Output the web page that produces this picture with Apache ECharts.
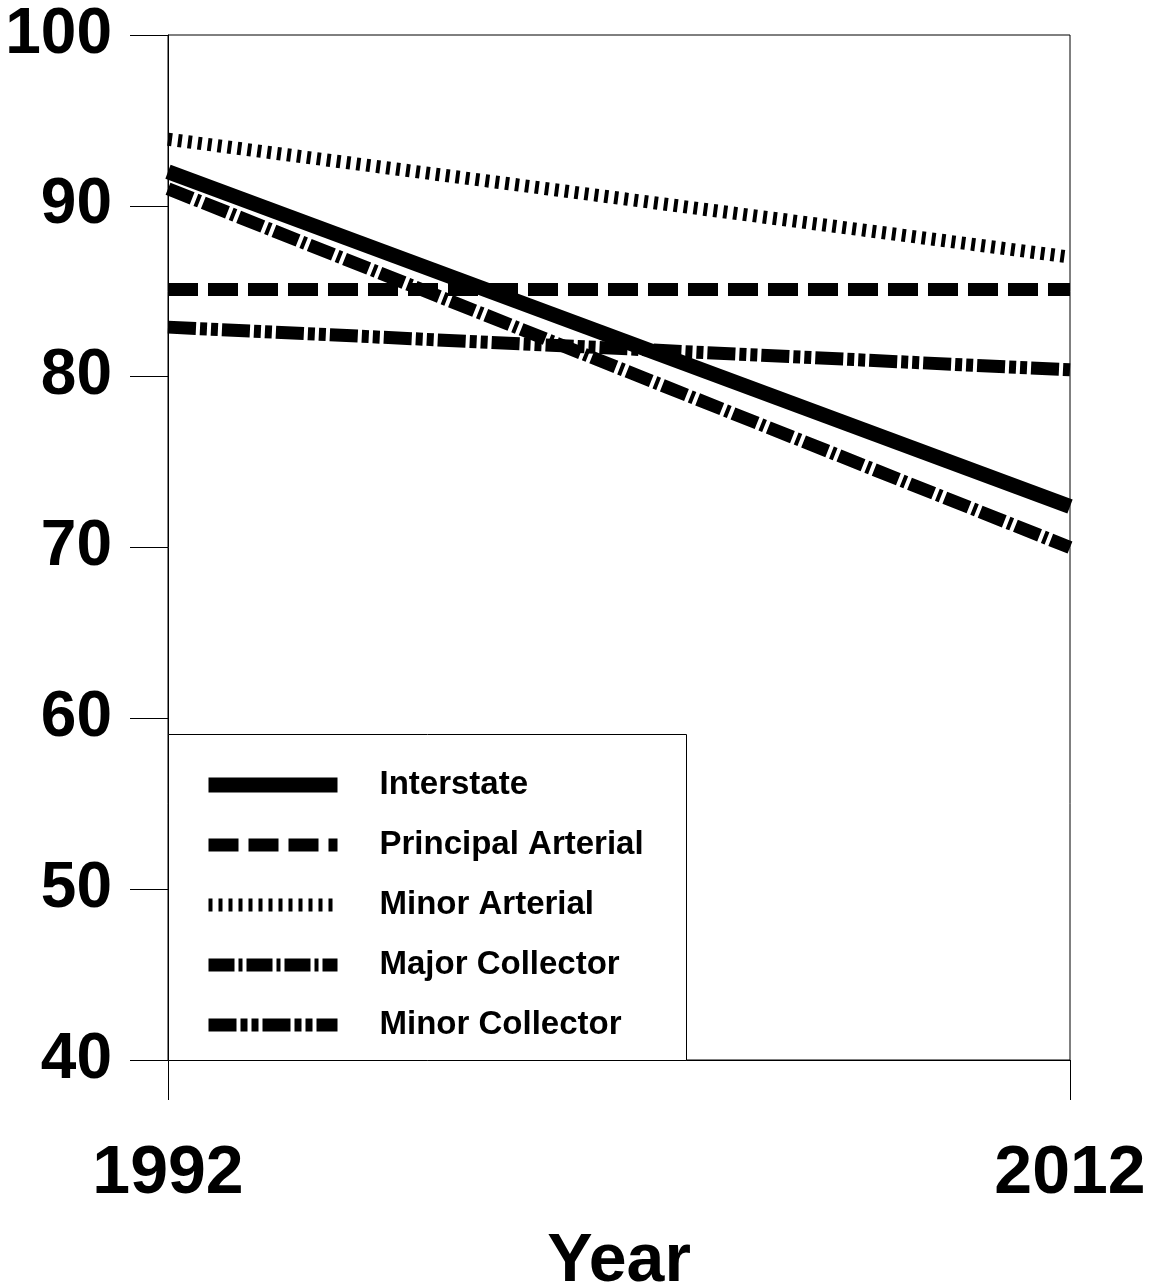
<!DOCTYPE html>
<html><head><meta charset="utf-8">
<script src="https://cdn.jsdelivr.net/npm/echarts@6/dist/echarts.min.js"></script>
<style>html,body{margin:0;padding:0;background:#fff}#c{width:1150px;height:1282px}</style>
</head><body><div id="c"></div>
<script>
const years = ['1992', '2012'];
const seriesNames = ['Interstate', 'Principal Arterial', 'Minor Arterial', 'Major Collector', 'Minor Collector'];
const interstate = [92.0, 72.4];
const principalArterial = [85.1, 85.1];
const minorArterial = [93.9, 87.0];
const majorCollector = [91.0, 70.0];
const minorCollector = [82.9, 80.4];
const yTicks = [40, 50, 60, 70, 80, 90, 100];

const FONT = '"Liberation Sans", Arial, sans-serif';
const styles = [
  {width: 15, type: 'solid'},
  {width: 13, type: [30, 10]},
  {width: 13, type: [4, 6]},
  {width: 13, type: [26, 4, 4, 4]},
  {width: 13, type: [28, 4, 7, 4, 7, 4]}
];
const values = [interstate, principalArterial, minorArterial, majorCollector, minorCollector];

const chart = echarts.init(document.getElementById('c'));
chart.setOption({
  animation: false,
  backgroundColor: '#fff',
  grid: {left: 168, right: 80, top: 35, bottom: 222, show: true, borderColor: '#000', borderWidth: 1, outerBoundsMode: 'none', containLabel: false},
  xAxis: {
    type: 'category', data: years, boundaryGap: false,
    axisLine: {lineStyle: {color: '#000', width: 1}},
    axisTick: {show: true, length: 40, lineStyle: {color: '#000'}},
    axisLabel: {fontFamily: FONT, fontWeight: 'bold', fontSize: 68, color: '#000', margin: 80},
    name: 'Year', nameLocation: 'middle', nameGap: 168,
    nameTextStyle: {fontFamily: FONT, fontWeight: 'bold', fontSize: 68, color: '#000'}
  },
  yAxis: {
    type: 'value', min: yTicks[0], max: yTicks[yTicks.length - 1], interval: 10,
    splitLine: {show: false},
    axisLine: {show: true, lineStyle: {color: '#000', width: 1}},
    axisTick: {show: true, length: 38, lineStyle: {color: '#000'}},
    axisLabel: {fontFamily: FONT, fontWeight: 'bold', fontSize: 64, color: '#000', margin: 56}
  },
  graphic: [{type: 'rect', left: 168, top: 734, shape: {width: 518, height: 326}, style: {fill: '#fff', stroke: '#000', lineWidth: 1}, z: 5}],
  legend: {
    orient: 'vertical', left: 168, top: 736, padding: [28, 0, 0, 33], itemGap: 18, z: 10,
    itemWidth: 129, itemHeight: 15,
    textStyle: {fontFamily: FONT, fontWeight: 'bold', fontSize: 33, color: '#000', lineHeight: 42, padding: [0, 0, 0, 37]},
    itemStyle: {opacity: 0},
    data: seriesNames.map((n, i) => ({name: n, lineStyle: {width: styles[i].width, type: styles[i].type, cap: 'butt', color: '#000'}}))
  },
  series: seriesNames.map((n, i) => ({
    name: n, type: 'line', data: values[i], symbol: 'none', z: 3,
    lineStyle: {color: '#000', width: styles[i].width, type: styles[i].type, cap: 'butt'},
    itemStyle: {color: '#000'}
  }))
});
</script></body></html>
